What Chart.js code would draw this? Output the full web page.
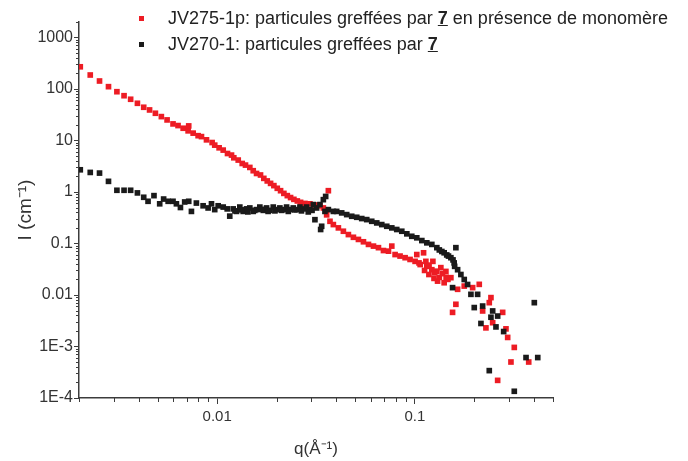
<!DOCTYPE html>
<html>
<head>
<meta charset="utf-8">
<script src="https://cdn.jsdelivr.net/npm/chart.js@4.4.1/dist/chart.umd.min.js"></script>
<style>
  body { margin: 0; background: #fff; }
  #wrap { position: relative; width: 688px; height: 461px; font-family: "Liberation Sans", Arial, sans-serif; }
  .mark { position: absolute; width: 5px; height: 5px; }
  .ltext { position: absolute; left: 168px; font-size: 18px; line-height: 22px; color: #222; white-space: nowrap; }
  .ltext u { font-weight: bold; }
</style>
</head>
<body>
<div id="wrap">
  <canvas id="saxs" width="688" height="461"></canvas>
  <div class="mark" style="left:139px;top:16px;background:#ed1c24"></div>
  <div class="ltext" style="top:7px">JV275-1p: particules greffées par <u>7</u> en présence de monomère</div>
  <div class="mark" style="left:139px;top:42px;background:#1a1a1a"></div>
  <div class="ltext" style="top:33px">JV270-1: particules greffées par <u>7</u></div>
</div>
<script>
// JV275-1p (red)
const qRed = [
  0.00203, 0.00228, 0.00254, 0.00282, 0.00311, 0.00338, 0.00365, 0.00395, 0.00425, 0.00455,
  0.00487, 0.00522, 0.00558, 0.00598, 0.00634, 0.00673, 0.00713, 0.00718, 0.00756, 0.00801,
  0.00833, 0.00883, 0.00943, 0.00972, 0.01023, 0.01073, 0.01128, 0.01182, 0.01214, 0.01278,
  0.01339, 0.01391, 0.01463, 0.01522, 0.01582, 0.01657, 0.01722, 0.01792, 0.01863, 0.01936,
  0.02014, 0.02093, 0.02175, 0.02264, 0.02352, 0.02444, 0.02544, 0.02643, 0.0278, 0.02946,
  0.03123, 0.03311, 0.03445, 0.0358, 0.03652, 0.03722, 0.03871, 0.04104, 0.0435, 0.04612,
  0.0489, 0.05184, 0.05496, 0.05827, 0.06177, 0.06546, 0.06939, 0.07357, 0.07646, 0.07946,
  0.0842, 0.0893, 0.0946, 0.1003, 0.1023, 0.1064, 0.1107, 0.1137, 0.115, 0.1178,
  0.1219, 0.1234, 0.1292, 0.1303, 0.1354, 0.1407, 0.1436, 0.147, 0.1522, 0.1552,
  0.1613, 0.1646, 0.1778, 0.1961, 0.2118, 0.2203, 0.2289, 0.238, 0.2427, 0.2476,
  0.2624, 0.2782, 0.2891, 0.2949, 0.3064, 0.3185, 0.3768,
  0.105, 0.112, 0.118, 0.125, 0.126, 0.133, 0.138, 0.144
];
const iRed = [
  270, 187, 143, 111, 88.6, 74.1, 63.2, 52.8, 44.2, 39.2,
  33.8, 29.1, 25.1, 21.0, 19.5, 17.3, 15.4, 19.2, 13.9, 12.4,
  11.9, 10.3, 9.13, 8.13, 7.21, 6.51, 5.59, 5.21, 4.62, 4.17,
  3.58, 3.33, 3.00, 2.59, 2.29, 2.14, 1.84, 1.64, 1.47, 1.33,
  1.18, 1.06, 0.94, 0.85, 0.78, 0.72, 0.67, 0.63, 0.60, 0.59,
  0.56, 0.54, 0.49, 0.36, 1.06, 0.27, 0.233, 0.201, 0.173, 0.149,
  0.132, 0.120, 0.108, 0.096, 0.089, 0.083, 0.073, 0.071, 0.089, 0.061,
  0.057, 0.053, 0.049, 0.045, 0.061, 0.039, 0.066, 0.045, 0.036, 0.025,
  0.031, 0.045, 0.029, 0.0186, 0.034, 0.0173, 0.0287, 0.0201, 0.0217, 0.0046,
  0.0066, 0.0129, 0.0149, 0.0139, 0.0161, 0.0049, 0.0023, 0.0071, 0.0089, 0.0029,
  0.00022, 0.0046, 0.0022, 0.0015, 0.0005, 0.00096, 0.0005,
  0.042, 0.030, 0.038, 0.021, 0.027, 0.022, 0.026, 0.022
];

// JV270-1 (black)
const qBlack = [
  0.00203, 0.00228, 0.00254, 0.00282, 0.00311, 0.00338, 0.00365, 0.00395, 0.00425, 0.00447,
  0.00479, 0.00512, 0.00536, 0.00565, 0.00598, 0.00622, 0.00652, 0.00685, 0.00718, 0.00741,
  0.00785, 0.00849, 0.009, 0.00936, 0.00972, 0.01012, 0.01073, 0.01124, 0.01158, 0.01205,
  0.01253, 0.01302, 0.01354, 0.01408, 0.01463, 0.01522, 0.01582, 0.01644, 0.01711, 0.01778,
  0.01847, 0.01922, 0.01997, 0.02076, 0.0216, 0.02245, 0.02333, 0.02427, 0.02522, 0.02622,
  0.02728, 0.02835, 0.02946, 0.03066, 0.03123, 0.03185, 0.03311, 0.03338, 0.03378, 0.03445,
  0.0351, 0.03539, 0.03652, 0.03871, 0.04024, 0.04266, 0.04522, 0.04794, 0.05082, 0.05387,
  0.05711, 0.06053, 0.06417, 0.06802, 0.07211, 0.07646, 0.081, 0.0859, 0.0911, 0.0965,
  0.1023, 0.1085, 0.115, 0.1219, 0.1292, 0.1407, 0.1522, 0.1552, 0.1581, 0.1613,
  0.1646, 0.171, 0.1778, 0.1849, 0.1922, 0.1998, 0.2078, 0.216, 0.2203, 0.238,
  0.2427, 0.2476, 0.2573, 0.2624, 0.2814, 0.3185, 0.3652, 0.4022, 0.4186,
  0.0123, 0.0133, 0.0143, 0.0155, 0.0168, 0.0181, 0.0196, 0.0212, 0.0229, 0.0247,
  0.0267, 0.0289, 0.0302, 0.133, 0.137, 0.145, 0.148, 0.156, 0.159
];
const iBlack = [
  2.70, 2.40, 2.33, 1.61, 1.08, 1.08, 1.08, 0.96, 0.79, 0.66,
  0.85, 0.59, 0.73, 0.66, 0.66, 0.59, 0.50, 0.64, 0.66, 0.42,
  0.61, 0.54, 0.49, 0.59, 0.455, 0.54, 0.51, 0.47, 0.34, 0.47,
  0.42, 0.51, 0.42, 0.47, 0.49, 0.42, 0.455, 0.51, 0.44, 0.49,
  0.44, 0.51, 0.455, 0.49, 0.455, 0.51, 0.455, 0.49, 0.455, 0.51,
  0.47, 0.51, 0.455, 0.57, 0.29, 0.49, 0.57, 0.187, 0.216, 0.71,
  0.42, 0.82, 0.455, 0.42, 0.42, 0.393, 0.364, 0.338, 0.323, 0.305,
  0.291, 0.270, 0.251, 0.233, 0.216, 0.201, 0.187, 0.173, 0.154, 0.138,
  0.129, 0.114, 0.103, 0.096, 0.083, 0.066, 0.053, 0.0139, 0.042, 0.083,
  0.031, 0.025, 0.020, 0.016, 0.0103, 0.0057, 0.0103, 0.0028, 0.0061, 0.00034,
  0.0037, 0.0049, 0.0024, 0.0039, 0.00195, 0.000135, 0.00061, 0.0071, 0.00061,
  0.43, 0.45, 0.41, 0.44, 0.46, 0.42, 0.43, 0.44, 0.42, 0.45,
  0.43, 0.41, 0.44, 0.075, 0.070, 0.060, 0.057, 0.048, 0.036
];

// axes
const xMin = 0.002, xMax = 0.5;
const yMin = 1e-4, yMax = 2000;
const xDecades = [0.001, 0.01, 0.1];
const yDecades = [1e-4, 1e-3, 0.01, 0.1, 1, 10, 100, 1000];
const xMajorValues = [0.01, 0.1];
const xMajorLabels = ['0.01', '0.1'];
const yMajorValues = [1e-4, 1e-3, 0.01, 0.1, 1, 10, 100, 1000];
const yMajorLabels = ['1E-4', '1E-3', '0.01', '0.1', '1', '10', '100', '1000'];

const axisColor = '#3c3c3c';
const fontFamily = '"Liberation Sans", Arial, sans-serif';

function majorIndex(v, majors) {
  return majors.findIndex(m => Math.abs(v / m - 1) < 1e-6);
}

function buildLogTicks(decades, min, max) {
  const ticks = [];
  decades.forEach(d => {
    for (let m = 1; m <= 9; m++) {
      const v = m * d;
      if (v >= min * 0.999999 && v <= max * 1.000001) ticks.push({ value: v });
    }
  });
  return ticks;
}

function toPoints(qs, is) {
  return qs.map((q, k) => ({ x: q, y: is[k] }));
}

// short ticks for the minor values, drawn outside the axes
const minorTicks = {
  id: 'minorTicks',
  afterDraw(chart) {
    const { ctx, scales: { x, y } } = chart;
    ctx.save();
    ctx.strokeStyle = axisColor;
    ctx.lineWidth = 1;
    ctx.beginPath();
    x.ticks.forEach(t => {
      if (majorIndex(t.value, xMajorValues) >= 0) return;
      const px = Math.round(x.getPixelForValue(t.value)) + 0.5;
      ctx.moveTo(px, x.top);
      ctx.lineTo(px, x.top + 4);
    });
    y.ticks.forEach(t => {
      if (majorIndex(t.value, yMajorValues) >= 0) return;
      const py = Math.round(y.getPixelForValue(t.value)) + 0.5;
      ctx.moveTo(y.right, py);
      ctx.lineTo(y.right - 3, py);
    });
    ctx.stroke();
    ctx.restore();
  }
};

const ctx = document.getElementById('saxs').getContext('2d');
new Chart(ctx, {
  type: 'scatter',
  data: {
    datasets: [
      {
        label: 'JV270-1: particules greffées par 7',
        data: toPoints(qBlack, iBlack),
        backgroundColor: '#1a1a1a',
        order: 0
      },
      {
        label: 'JV275-1p: particules greffées par 7 en présence de monomère',
        data: toPoints(qRed, iRed),
        backgroundColor: '#ed1c24',
        order: 1
      }
    ]
  },
  options: {
    responsive: false,
    animation: false,
    devicePixelRatio: 1,
    elements: {
      point: { pointStyle: 'rect', radius: 4, borderWidth: 0 }
    },
    layout: { padding: { top: 22, right: 135, left: 0, bottom: 0 } },
    plugins: {
      legend: { display: false },
      tooltip: { enabled: false }
    },
    scales: {
      x: {
        type: 'logarithmic',
        min: xMin,
        max: xMax,
        afterBuildTicks: s => { s.ticks = buildLogTicks(xDecades, xMin, xMax); },
        afterFit: s => { s.height = 63; },
        border: { color: axisColor, width: 1.5 },
        grid: {
          drawOnChartArea: false,
          tickLength: 6,
          tickWidth: 1,
          tickColor: c => majorIndex(c.tick.value, xMajorValues) >= 0 ? axisColor : 'rgba(0,0,0,0)'
        },
        ticks: {
          autoSkip: false,
          maxRotation: 0,
          padding: 4,
          color: '#333',
          font: { family: fontFamily, size: 15 },
          callback: v => {
            const k = majorIndex(v, xMajorValues);
            return k >= 0 ? xMajorLabels[k] : '';
          }
        },
        title: {
          display: true,
          text: 'q(Å⁻¹)',
          color: '#333',
          font: { family: fontFamily, size: 17 },
          padding: { top: 0, bottom: 1 }
        }
      },
      y: {
        type: 'logarithmic',
        min: yMin,
        max: yMax,
        afterBuildTicks: s => { s.ticks = buildLogTicks(yDecades, yMin, yMax); },
        afterFit: s => { s.width = 79; },
        border: { color: axisColor, width: 1.5 },
        grid: {
          drawOnChartArea: false,
          tickLength: 5,
          tickWidth: 1,
          tickColor: c => majorIndex(c.tick.value, yMajorValues) >= 0 ? axisColor : 'rgba(0,0,0,0)'
        },
        ticks: {
          autoSkip: false,
          padding: 1,
          color: '#333',
          font: { family: fontFamily, size: 16 },
          callback: v => {
            const k = majorIndex(v, yMajorValues);
            return k >= 0 ? yMajorLabels[k] : '';
          }
        },
        title: {
          display: true,
          text: 'I (cm⁻¹)',
          color: '#333',
          font: { family: fontFamily, size: 19 },
          padding: { top: 14, bottom: 0 }
        }
      }
    }
  },
  plugins: [minorTicks]
});
</script>
</body>
</html>
